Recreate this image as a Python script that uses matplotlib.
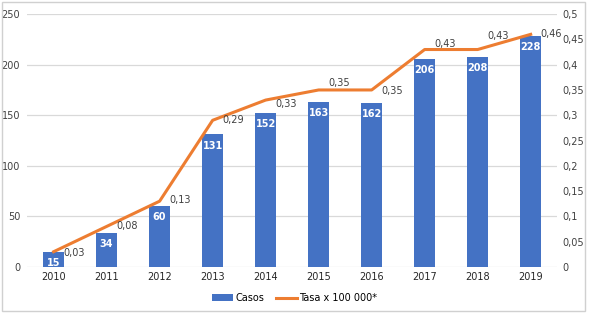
import matplotlib.pyplot as plt
import numpy as np
from matplotlib.patches import Rectangle

years = ["2010", "2011", "2012", "2013", "2014", "2015", "2016", "2017", "2018", "2019"]
casos = [15, 34, 60, 131, 152, 163, 162, 206, 208, 228]
tasa = [0.03, 0.08, 0.13, 0.29, 0.33, 0.35, 0.35, 0.43, 0.43, 0.46]

# label offsets for the rate labels (points)
tasa_dy = [-1, 0, 1, 0, -3, 5, -1, 4, 10, 0]

blue = "#4472C4"
orange = "#ED7D31"

fig = plt.figure(figsize=(5.89, 3.14), dpi=100)
ax = fig.add_axes([0.046, 0.150, 0.900, 0.805])
ax2 = ax.twinx()

x = np.arange(len(years))
bars = ax.bar(x, casos, width=0.4, color=blue, zorder=2, label="Casos")
for xi, v in zip(x, casos):
    ax.annotate(str(v), (xi, v), xytext=(0, -8), textcoords="offset points",
                ha="center", va="center", color="white", fontsize=7, fontweight="bold", zorder=3)

line, = ax2.plot(x, tasa, color=orange, lw=2.2, label="Tasa x 100 000*", zorder=3)
for xi, v, dy in zip(x, tasa, tasa_dy):
    ax2.annotate(("%.2f" % v).replace(".", ","), (xi, v), xytext=(7, dy), textcoords="offset points",
                 ha="left", va="center", color="#404040", fontsize=7)

ax.set_xlim(-0.5, len(years) - 0.5)
ax.set_ylim(0, 250)
ax.set_yticks([0, 50, 100, 150, 200, 250])
ax2.set_ylim(0, 0.5)
r_ticks = np.round(np.arange(0, 0.501, 0.05), 2)
ax2.set_yticks(r_ticks)
ax2.set_yticklabels([("%g" % t).replace(".", ",") for t in r_ticks])

ax.set_xticks(x)
ax.set_xticklabels(years)
ax.yaxis.grid(True, color="#d9d9d9", lw=0.9, zorder=0)
ax.set_axisbelow(True)

for a in (ax, ax2):
    for s in a.spines.values():
        s.set_visible(False)
    a.tick_params(length=0, labelsize=7, colors="#404040")
ax.tick_params(axis="y", pad=5)
ax2.tick_params(axis="y", pad=4)
ax.tick_params(axis="x", pad=4, labelcolor="#262626")
# keep line above bars
ax2.set_zorder(0)
ax.set_zorder(-1)
ax.patch.set_visible(False)
ax2.patch.set_visible(False)
fig.patch.set_facecolor("white")

fig.legend(handles=[bars, line], labels=["Casos", "Tasa x 100 000*"], loc="center",
           bbox_to_anchor=(0.5, 0.05), ncol=2, frameon=False, fontsize=7,
           handlelength=2.2, handletextpad=0.2, columnspacing=1.2)

fig.add_artist(Rectangle((0.004, 0.008), 0.99, 0.985, transform=fig.transFigure,
                         fill=False, edgecolor="#d0d0d0", lw=1))

fig.savefig("out.png", dpi=100)
